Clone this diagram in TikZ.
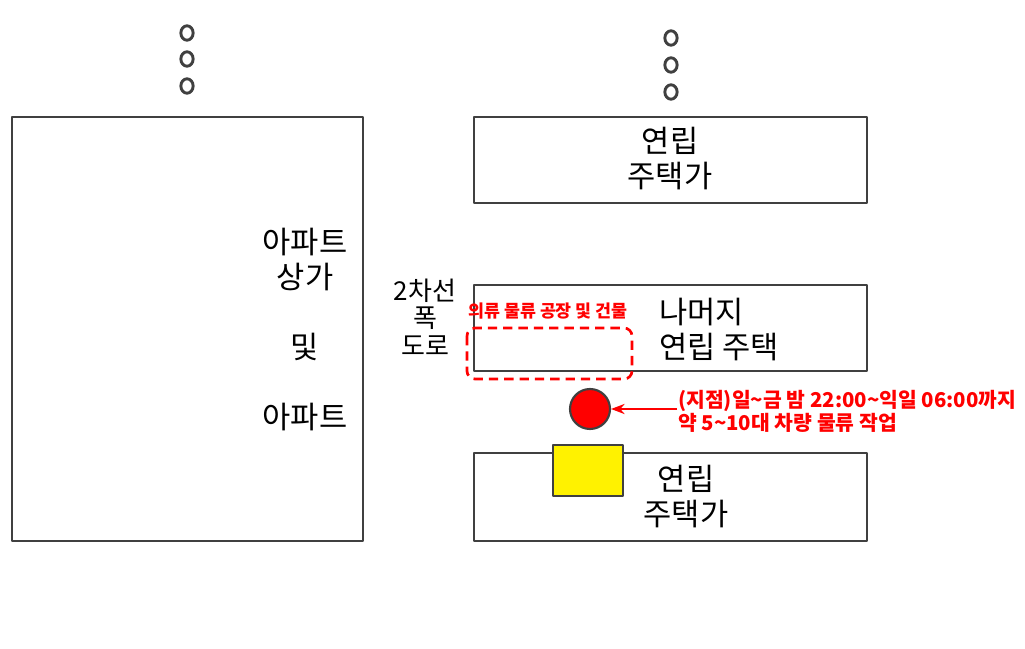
\documentclass[tikz,border=0pt]{standalone}
\usepackage{fontspec}
\setmainfont{Noto Sans CJK KR}
\usetikzlibrary{arrows.meta}
\definecolor{rand}{HTML}{404040}
\definecolor{rood}{HTML}{FF0000}
\tikzset{
  blok/.style={draw=rand, line width=1.6pt, rectangle, inner sep=0pt},
  tekst/.style={font=\fontsize{23}{26.25}\selectfont, align=center, inner sep=0pt},
  rood tekst/.style={text=rood, font=\bfseries\fontsize{15.3}{17.3}\selectfont, align=left, inner sep=0pt},
  stip/.style={draw=rand, line width=2.2pt},
}
\begin{document}
\begin{tikzpicture}[x=0.75pt, y=-0.75pt, >=Stealth, line join=round]
\useasboundingbox (0,0) rectangle (1025,649);
\path%punten
(12,117) coordinate (L1) (363,541) coordinate (L2)
(474,117) coordinate (A1) (867,203) coordinate (A2)
(474,285) coordinate (B1) (867,371) coordinate (B2)
(474,453) coordinate (C1) (867,541) coordinate (C2)
;
\draw[blok] (L1) rectangle (L2) (A1) rectangle (A2) (B1) rectangle (B2) (C1) rectangle (C2);
\foreach \y in {33,59,86}\draw[stip] (187,\y) ellipse (4.6pt and 5.4pt);
\foreach \y in {38,65,92}\draw[stip] (671,\y) ellipse (4.6pt and 5.4pt);
% teksten
\node[tekst] (apt) at (305,330) {아파트\\상가\\\\및\\\\아파트};
\node[tekst] (top) at (670,159) {연립\\주택가};
\node[tekst, align=left, anchor=west] (rest) at (659,330) {나머지\\연립 주택};
\node[tekst] (bot) at (686,497) {연립\\주택가};
\node[tekst, font=\fontsize{19.5}{20.6}\selectfont] (weg) at (425,317) {2차선\\폭\\도로};
% fabriek
\draw[rood, line width=2pt, dash pattern=on 7pt off 4.5pt, rounded corners=6pt] (467,328) rectangle (632,379);
\node[rood tekst, font=\bfseries\fontsize{13}{15}\selectfont] (fab) at (548,311) {의류 물류 공장 및 건물};
\draw[blok, fill=yellow] (553,445) rectangle (623,496);
\node[draw=rand, line width=1.6pt, fill=rood, circle, minimum size=30pt, inner sep=0pt] (punt) at (590,409) {};
\node[rood tekst, anchor=west] (info) at (678,411) {(지점)일\textasciitilde 금 밤 22:00\textasciitilde 익일 06:00까지\\약 5\textasciitilde 10대 차량 물류 작업};
\coordinate (pijl) at (677,409);
\draw[->, rood, line width=1.6pt] (pijl) -- (punt);
\end{tikzpicture}
\end{document}
